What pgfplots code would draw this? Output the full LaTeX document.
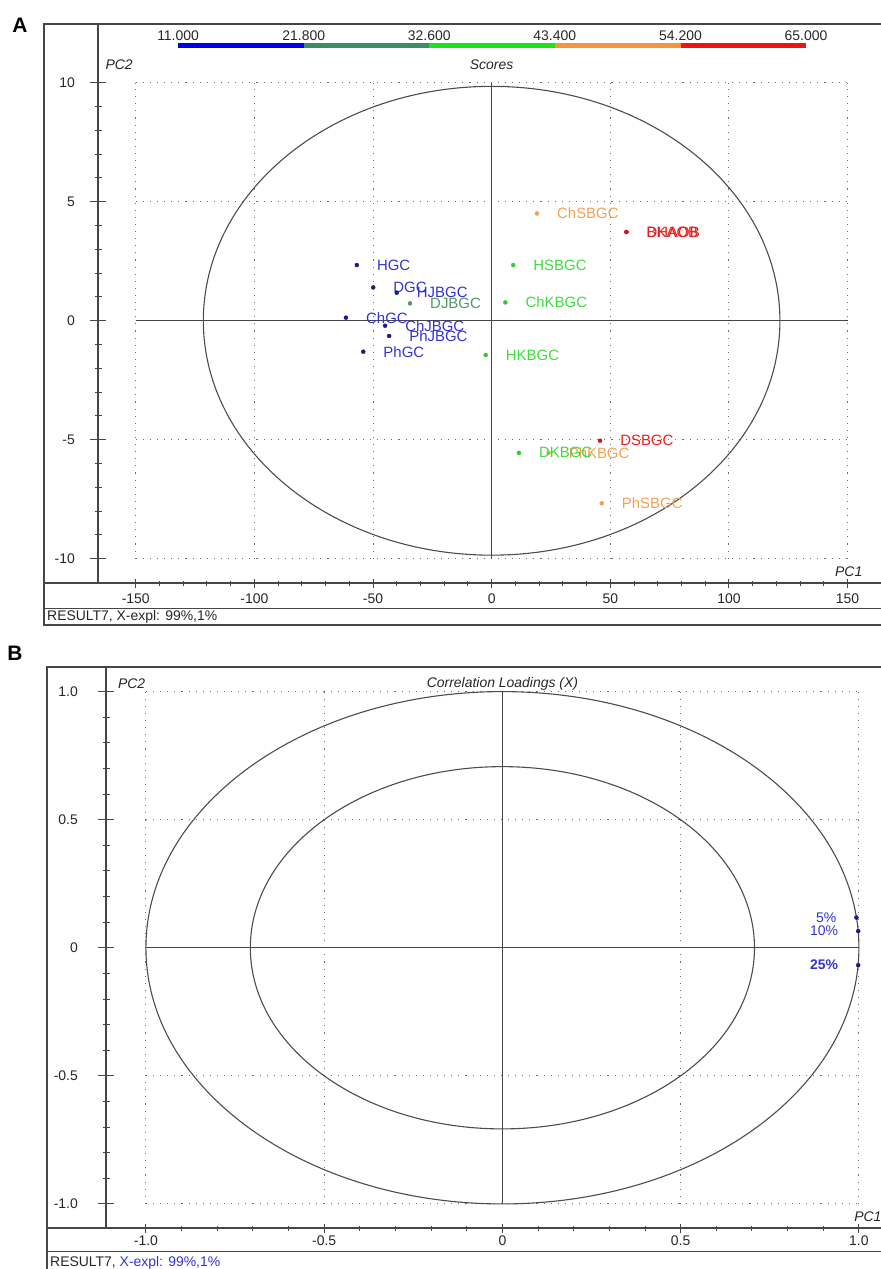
\documentclass[border=0pt]{standalone}
\usepackage{fontspec}
\setmainfont{Liberation Sans}
\usepackage{pgfplots}
\pgfplotsset{compat=1.18}
\definecolor{frame}{RGB}{70,70,70}
\definecolor{cbBlue}{RGB}{0,0,230}
\definecolor{cbTeal}{RGB}{60,140,100}
\definecolor{cbGreen}{RGB}{30,225,30}
\definecolor{cbOrange}{RGB}{245,150,60}
\definecolor{cbRed}{RGB}{238,20,20}
\definecolor{lblBlue}{RGB}{50,50,210}
\definecolor{ptBlue}{RGB}{25,25,140}
\definecolor{lblTeal}{RGB}{80,150,110}
\definecolor{lblGreen}{RGB}{60,220,60}
\definecolor{lblOrange}{RGB}{245,160,80}
\definecolor{lblRed}{RGB}{235,30,30}
\definecolor{gridc}{RGB}{110,110,110}
\pgfplotsset{
  pcabase/.style={scale only axis, clip=false,
    axis line style={line width=1.1bp, draw=frame},
    tick style={line width=1bp, draw=frame}, tick align=outside,
    ticklabel style={font=\fontsize{14}{16}\selectfont, text=black!85, inner sep=0pt},
  },
  noarrows/.style={
    every outer x axis line/.append style={-},
    every outer y axis line/.append style={-},
    every inner x axis line/.append style={-},
    every inner y axis line/.append style={-},
    x axis line style={-}, y axis line style={-}},
  lbl/.style={nodes near coords, point meta=explicit symbolic,
    every node near coord/.append style={anchor=west, inner sep=0pt, xshift=20bp,
      font=\fontsize{15}{17}\selectfont, text=#1}},
  lblL/.style={nodes near coords, point meta=explicit symbolic,
    every node near coord/.append style={anchor=east, inner sep=0pt, xshift=-20bp,
      font=\fontsize{14}{16}\selectfont, text=#1}},
}
\tikzset{griddot/.style={gridc, line width=0.9bp, dash pattern=on 1.1bp off 6bp},
  cross/.style={frame, line width=1.1bp},
  ell/.style={black!70, line width=1.1bp}}
\begin{document}
\begin{tikzpicture}
\useasboundingbox (0,0) rectangle (881bp,-1269bp);
% ---------------- Panel A frame ----------------
\node[font=\fontsize{21}{24}\selectfont\bfseries] at (20bp,-25bp) {A};
\draw[frame, line width=1.1bp] (900bp,-24bp) -- (44bp,-24bp) -- (44bp,-625bp) -- (900bp,-625bp);
\draw[frame, line width=1.1bp] (44bp,-583bp) -- (900bp,-583bp);
\draw[frame, line width=1bp] (44bp,-608bp) -- (900bp,-608bp);
\draw[frame, line width=1.1bp] (98bp,-24bp) -- (98bp,-583bp);
\node[anchor=west, inner sep=0pt, font=\fontsize{14}{16}\selectfont, text=black!85] at (47bp,-617bp) {RESULT7, X-expl: 99\%,1\%};
% ---------------- Panel A axis (y ticks + content) ----------------
\begin{axis}[pcabase, at={(98bp,-583bp)}, anchor=south west, width=783bp, height=559bp,
  xmin=-165.9, xmax=164.1, ymin=-11.02, ymax=12.47,
  axis y line=left, axis x line=none, noarrows,
  major tick length=16bp, minor tick length=7bp,
  ytick={-10,-5,0,5,10}, yticklabels={-10,-5,0,5,10}, minor y tick num=4,
  yticklabel style={anchor=east, xshift=-15bp},
]
% colour bar
\addplot[cbBlue, line width=5bp, forget plot] coordinates {(-132.15,11.56) (-79.2,11.56)};
\addplot[cbTeal, line width=5bp, forget plot] coordinates {(-79.2,11.56) (-26.3,11.56)};
\addplot[cbGreen, line width=5bp, forget plot] coordinates {(-26.3,11.56) (26.6,11.56)};
\addplot[cbOrange, line width=5bp, forget plot] coordinates {(26.6,11.56) (79.6,11.56)};
\addplot[cbRed, line width=5bp, forget plot] coordinates {(79.6,11.56) (132.5,11.56)};
\begin{scope}[font=\fontsize{14}{16}\selectfont, text=black!85]
\node at (axis cs:-132.15,11.98) {11.000};
\node at (axis cs:-79.2,11.98) {21.800};
\node at (axis cs:-26.3,11.98) {32.600};
\node at (axis cs:26.6,11.98) {43.400};
\node at (axis cs:79.6,11.98) {54.200};
\node at (axis cs:132.5,11.98) {65.000};
\end{scope}
\node[font=\fontsize{14}{16}\selectfont\itshape, text=black!85] at (axis cs:-157,10.75) {PC2};
\node[font=\fontsize{14}{16}\selectfont\itshape, text=black!85] at (axis cs:0,10.75) {Scores};
\node[font=\fontsize{14}{16}\selectfont\itshape, text=black!85] at (axis cs:150.5,-10.55) {PC1};
% grid
\draw[griddot] (axis cs:-150,-10) -- (axis cs:-150,10);
\draw[griddot] (axis cs:-100,-10) -- (axis cs:-100,10);
\draw[griddot] (axis cs:-50,-10) -- (axis cs:-50,10);
\draw[griddot] (axis cs:50,-10) -- (axis cs:50,10);
\draw[griddot] (axis cs:100,-10) -- (axis cs:100,10);
\draw[griddot] (axis cs:150,-10) -- (axis cs:150,10);
\draw[griddot] (axis cs:-150,10) -- (axis cs:150,10);
\draw[griddot] (axis cs:-150,5) -- (axis cs:150,5);
\draw[griddot] (axis cs:-150,-5) -- (axis cs:150,-5);
\draw[griddot] (axis cs:-150,-10) -- (axis cs:150,-10);
\draw[cross] (axis cs:-150,0) -- (axis cs:150,0);
\draw[cross] (axis cs:0,-10) -- (axis cs:0,10);
\draw[ell] (axis cs:0,0) ellipse [x radius=121.5, y radius=9.85];
% scores
\addplot[only marks, mark=*, mark size=2bp, color=ptBlue, lbl=lblBlue] coordinates {
 (-56.8,2.34) [HGC] (-49.9,1.40) [DGC] (-40.0,1.18) [HJBGC] (-61.4,0.13) [ChGC]
 (-44.9,-0.21) [ChJBGC] (-43.2,-0.64) [PhJBGC] (-54.1,-1.30) [PhGC]};
\addplot[only marks, mark=*, mark size=2bp, color=lblTeal, lbl=lblTeal] coordinates {
 (-34.4,0.73) [DJBGC]};
\addplot[only marks, mark=*, mark size=2bp, color=lblOrange, lbl=lblOrange] coordinates {
 (19.1,4.51) [ChSBGC] (24.0,-5.55) [PhKBGC] (46.4,-7.67) [PhSBGC]};
\addplot[only marks, mark=*, mark size=2bp, color=lblGreen!90!black, lbl=lblGreen] coordinates {
 (-2.5,-1.44) [HKBGC] (9.1,2.34) [HSBGC] (5.8,0.77) [ChKBGC] (11.5,-5.55) [DKBGC]};
\addplot[only marks, mark=*, mark size=2bp, color=lblRed!85!black, lbl=lblRed] coordinates {
 (56.8,3.73) [DHAOB] (56.8,3.73) [BKAOB] (45.7,-5.04) [DSBGC]};
\end{axis}
% ---------------- Panel A x ticks ----------------
\begin{axis}[pcabase, at={(98bp,-583bp)}, anchor=south west, width=783bp, height=559bp,
  xmin=-165.9, xmax=164.1, ymin=-11.02, ymax=12.47,
  axis x line=bottom, axis y line=none, noarrows,
  major tick length=9bp, minor tick length=5bp,
  xtick={-150,-100,-50,0,50,100,150}, xticklabels={-150,-100,-50,0,50,100,150}, minor x tick num=4,
  xticklabel style={anchor=north, yshift=-6bp},
]
\addplot[draw=none, forget plot] coordinates {(0,0)};
\end{axis}
\draw[frame, line width=1.1bp] (44bp,-583bp) -- (900bp,-583bp);
% ---------------- Panel B frame ----------------
\node[font=\fontsize{21}{24}\selectfont\bfseries] at (15bp,-653bp) {B};
\draw[frame, line width=1.1bp] (900bp,-667bp) -- (47bp,-667bp) -- (47bp,-1280bp);
\draw[frame, line width=1bp] (47bp,-1251bp) -- (900bp,-1251bp);
\node[anchor=west, inner sep=0pt, font=\fontsize{14}{16}\selectfont, text=black!85] at (50bp,-1263bp) {RESULT7, \textcolor{lblBlue}{X-expl: 99\%,1\%}};
% ---------------- Panel B axis ----------------
\begin{axis}[pcabase, at={(106bp,-1228bp)}, anchor=south west, width=775bp, height=561bp,
  xmin=-1.112, xmax=1.062, ymin=-1.094, ymax=1.096,
  axis y line=left, axis x line=none, noarrows,
  major tick length=16bp, minor tick length=7bp,
  ytick={-1,-0.5,0,0.5,1}, yticklabels={-1.0,-0.5,0,0.5,1.0}, minor y tick num=4,
  yticklabel style={anchor=east, xshift=-20bp},
]
\node[font=\fontsize{14}{16}\selectfont\itshape, text=black!85] at (axis cs:-1.04,1.03) {PC2};
\node[font=\fontsize{14}{16}\selectfont\itshape, text=black!85] at (axis cs:0,1.03) {Correlation Loadings (X)};
\node[font=\fontsize{14}{16}\selectfont\itshape, text=black!85] at (axis cs:1.025,-1.05) {PC1};
\draw[griddot] (axis cs:-1,-1) -- (axis cs:-1,1);
\draw[griddot] (axis cs:-0.5,-1) -- (axis cs:-0.5,1);
\draw[griddot] (axis cs:0.5,-1) -- (axis cs:0.5,1);
\draw[griddot] (axis cs:1,-1) -- (axis cs:1,1);
\draw[griddot] (axis cs:-1,1) -- (axis cs:1,1);
\draw[griddot] (axis cs:-1,0.5) -- (axis cs:1,0.5);
\draw[griddot] (axis cs:-1,-0.5) -- (axis cs:1,-0.5);
\draw[griddot] (axis cs:-1,-1) -- (axis cs:1,-1);
\draw[cross] (axis cs:-1,0) -- (axis cs:1,0);
\draw[cross] (axis cs:0,-1) -- (axis cs:0,1);
\draw[ell] (axis cs:0,0) ellipse [x radius=1, y radius=1];
\draw[ell] (axis cs:0,0) ellipse [x radius=0.7071, y radius=0.7071];
\addplot[only marks, mark=*, mark size=2bp, color=ptBlue, lblL=lblBlue] coordinates {
 (0.993,0.118) [5\%] (0.998,0.065) [10\%]};
\addplot[only marks, mark=*, mark size=2bp, color=ptBlue, lblL=lblBlue,
  every node near coord/.append style={font=\fontsize{14}{16}\selectfont\bfseries}] coordinates {
 (0.998,-0.068) [25\%]};
\end{axis}
\begin{axis}[pcabase, at={(106bp,-1228bp)}, anchor=south west, width=775bp, height=561bp,
  xmin=-1.112, xmax=1.062, ymin=-1.094, ymax=1.096,
  axis x line=bottom, axis y line=none, noarrows,
  major tick length=9bp, minor tick length=5bp,
  xtick={-1,-0.5,0,0.5,1}, xticklabels={-1.0,-0.5,0,0.5,1.0}, minor x tick num=4,
  xticklabel style={anchor=north, yshift=-3bp},
]
\addplot[draw=none, forget plot] coordinates {(0,0)};
\end{axis}
\draw[frame, line width=1.1bp] (47bp,-1228bp) -- (900bp,-1228bp);
\draw[frame, line width=1.1bp] (106bp,-667bp) -- (106bp,-1228bp);
\end{tikzpicture}
\end{document}
